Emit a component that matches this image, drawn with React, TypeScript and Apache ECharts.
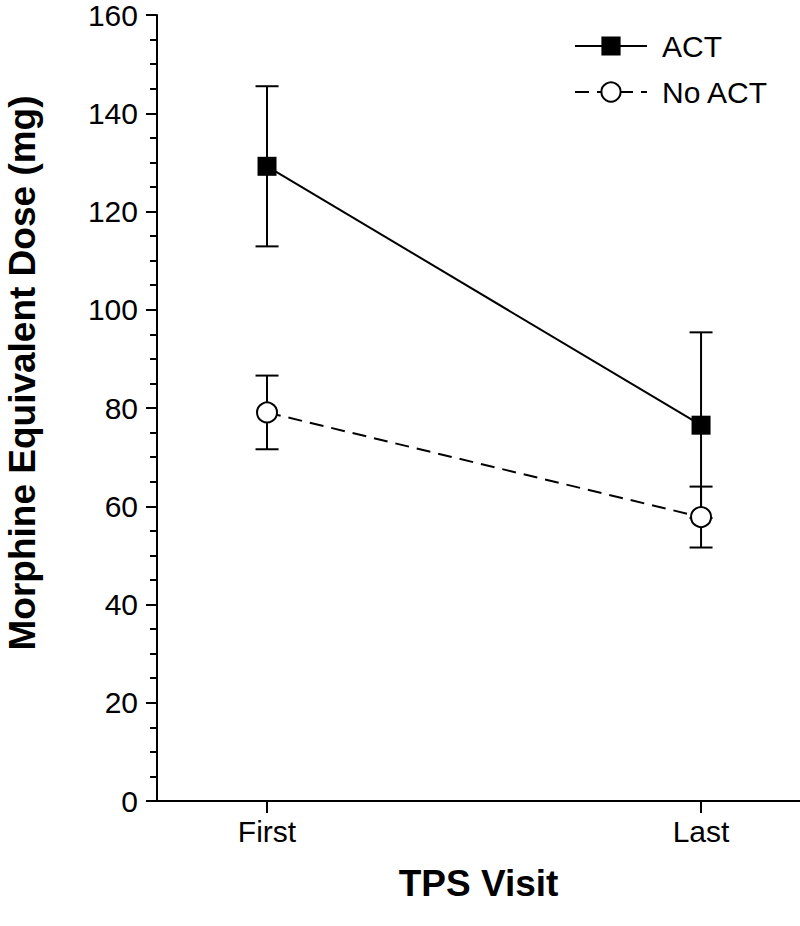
import React, { useEffect, useRef } from "react";
import * as echarts from "echarts";

const categories = ["First", "Last"];
const xPositions = [1, 2];
const actMean = [129.2, 76.5];
const actErr = [16.3, 18.9];
const noActMean = [79.1, 57.8];
const noActErr = [7.5, 6.2];
const seriesNames = ["ACT", "No ACT"];
const yTitle = "Morphine Equivalent Dose (mg)";
const xTitle = "TPS Visit";

const FONT = "'Liberation Sans', Arial, Helvetica, sans-serif";

export default function App() {
  const ref = useRef<HTMLDivElement>(null);

  useEffect(() => {
    document.body.style.margin = "0";
    if (!ref.current) return;
    const chart = echarts.init(ref.current, null, { renderer: "svg" });

    const errData = (means: number[], errs: number[]) =>
      xPositions.map((x, i) => [x, means[i] - errs[i], means[i] + errs[i]]);

    const errRender = (params: any, api: any) => {
      const x = api.value(0);
      const lo = api.coord([x, api.value(1)]);
      const hi = api.coord([x, api.value(2)]);
      const hw = 11.5;
      const style = { stroke: "#000", lineWidth: 2 };
      return {
        type: "group",
        children: [
          { type: "line", shape: { x1: hi[0], y1: hi[1], x2: lo[0], y2: lo[1] }, style },
          { type: "line", shape: { x1: hi[0] - hw, y1: hi[1], x2: hi[0] + hw, y2: hi[1] }, style },
          { type: "line", shape: { x1: lo[0] - hw, y1: lo[1], x2: lo[0] + hw, y2: lo[1] }, style },
        ],
      };
    };

    chart.setOption({
      animation: false,
      backgroundColor: "#fff",
      textStyle: { fontFamily: FONT },
      grid: { left: 157, top: 13, right: 0, bottom: 125, containLabel: false },
      legend: {
        data: seriesNames,
        orient: "vertical",
        left: 569,
        top: 26,
        itemWidth: 72,
        itemHeight: 24,
        itemGap: 16,
        textStyle: { fontSize: 30, color: "#000", fontFamily: FONT, padding: [0, 0, 0, 10] },
      },
      xAxis: {
        type: "value",
        min: 0.7465,
        max: 2.228,
        name: xTitle,
        nameLocation: "middle",
        nameGap: 64,
        nameTextStyle: { fontSize: 37, fontWeight: "bold", color: "#000", fontFamily: FONT },
        axisLine: { lineStyle: { color: "#000", width: 2 } },
        axisTick: { customValues: xPositions, length: 12, lineStyle: { color: "#000", width: 2 } },
        axisLabel: {
          customValues: xPositions,
          formatter: (v: number) => categories[Math.round(v) - 1] ?? "",
          fontSize: 30,
          color: "#000",
          margin: 15,
          fontFamily: FONT,
        },
        splitLine: { show: false },
      },
      yAxis: {
        type: "value",
        min: 0,
        max: 160,
        interval: 20,
        axisLine: { show: true, lineStyle: { color: "#000", width: 2 } },
        axisTick: { show: true, length: 11, lineStyle: { color: "#000", width: 2 } },
        minorTick: { show: true, splitNumber: 4, length: 7, lineStyle: { color: "#000", width: 2 } },
        axisLabel: { fontSize: 30, color: "#000", margin: 19, fontFamily: FONT },
        splitLine: { show: false },
        minorSplitLine: { show: false },
      },
      graphic: [
        {
          type: "text",
          x: 22,
          y: 373,
          rotation: Math.PI / 2,
          style: {
            text: yTitle,
            font: `bold 37px ${FONT}`,
            fill: "#000",
            textAlign: "center",
            textVerticalAlign: "middle",
          },
        },
      ],
      series: [
        {
          name: "ACT-err",
          type: "custom",
          z: 1,
          renderItem: errRender,
          encode: { x: 0, y: [1, 2] },
          data: errData(actMean, actErr),
        },
        {
          name: "NoACT-err",
          type: "custom",
          z: 1,
          renderItem: errRender,
          encode: { x: 0, y: [1, 2] },
          data: errData(noActMean, noActErr),
        },
        {
          name: seriesNames[0],
          type: "line",
          z: 3,
          data: xPositions.map((x, i) => [x, actMean[i]]),
          symbol: "rect",
          symbolSize: 19,
          itemStyle: { color: "#000" },
          lineStyle: { color: "#000", width: 2 },
        },
        {
          name: seriesNames[1],
          type: "line",
          z: 3,
          data: xPositions.map((x, i) => [x, noActMean[i]]),
          symbol: "circle",
          symbolSize: 20,
          itemStyle: { color: "#fff", borderColor: "#000", borderWidth: 2 },
          lineStyle: { color: "#000", width: 2, type: [14, 8] },
        },
      ],
    });

    return () => chart.dispose();
  }, []);

  return <div ref={ref} style={{ width: 800, height: 926 }} />;
}
